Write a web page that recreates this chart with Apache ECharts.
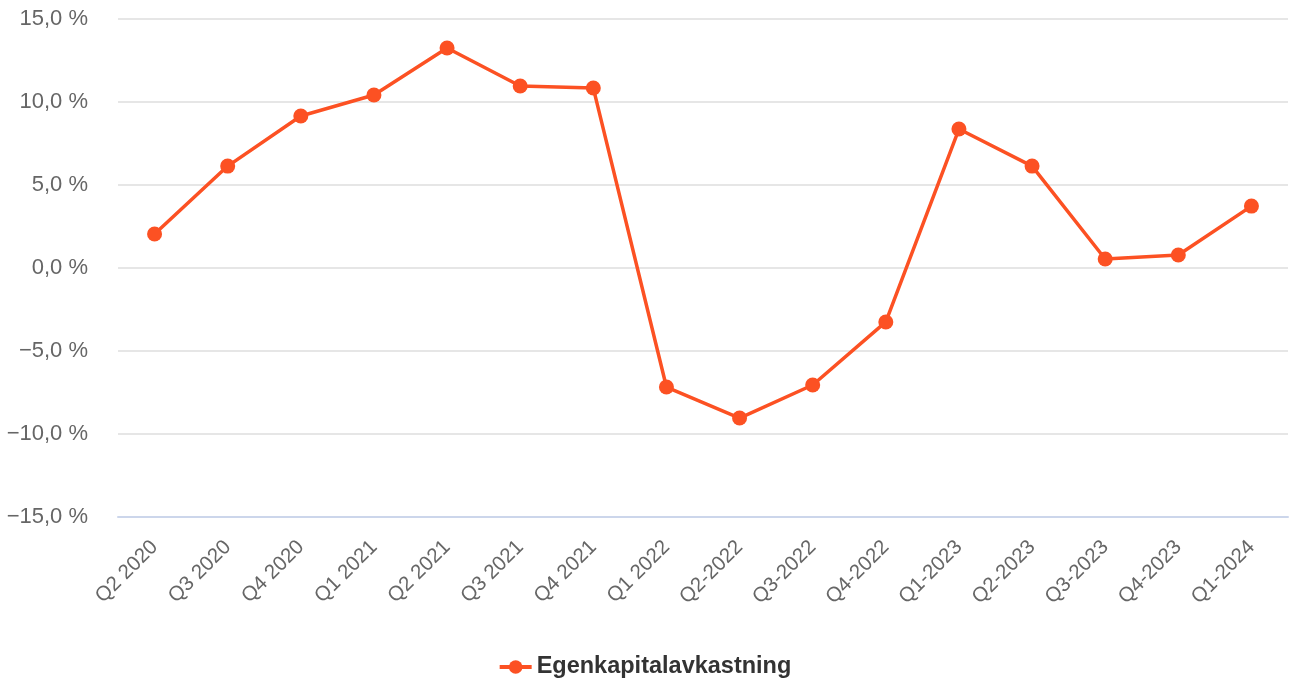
<!DOCTYPE html>
<html>
<head>
<meta charset="utf-8">
<script src="https://cdn.jsdelivr.net/npm/echarts@6/dist/echarts.min.js"></script>
<style>
    html, body { margin: 0; padding: 0; background: #fff; }
    #chart { width: 1289px; height: 684px; }
</style>
</head>
<body>
<div id="chart"></div>
<script>
const quarters = ['Q2 2020', 'Q3 2020', 'Q4 2020', 'Q1 2021', 'Q2 2021', 'Q3 2021', 'Q4 2021', 'Q1 2022',
    'Q2-2022', 'Q3-2022', 'Q4-2022', 'Q1-2023', 'Q2-2023', 'Q3-2023', 'Q4-2023', 'Q1-2024'];
const roe = [2.05, 6.14, 9.16, 10.42, 13.25, 10.96, 10.84, -7.17, -9.04, -7.05, -3.25, 8.37, 6.14, 0.54, 0.78, 3.73];
const seriesName = 'Egenkapitalavkastning';

(function () {
    const lineColor = '#fc5123';
    const fontFamily = '"Liberation Sans", Arial, sans-serif';

    // norsk format: komma som desimaltegn, ekte minustegn
    const fmt = (v) => {
        let s = Math.abs(v).toFixed(1).replace('.', ',') + ' %';
        return v < 0 ? '\u2212' + s : s;
    };

    let myChart = echarts.init(document.getElementById('chart'));
    myChart.setOption({
        'animation': false,
        'textStyle': { 'fontFamily': fontFamily },
        'grid': {
            'left': 118,
            'right': 1,
            'top': 19,
            'bottom': 167,
            'containLabel': false
        },
        'legend': {
            'data': [seriesName],
            'bottom': 0,
            'left': 'center',
            'itemWidth': 32,
            'itemHeight': 17,
            'itemGap': 10,
            'itemStyle': { 'color': lineColor },
            'lineStyle': { 'width': 4 },
            'textStyle': {
                'color': '#333',
                'fontSize': 23.5,
                'fontWeight': 'bold',
                'fontFamily': fontFamily
            }
        },
        'xAxis': {
            'type': 'category',
            'data': quarters,
            'boundaryGap': true,
            'axisLine': { 'onZero': false, 'lineStyle': { 'color': '#ccd6eb', 'width': 2 } },
            'axisTick': { 'show': false },
            'axisLabel': {
                'rotate': 45,
                'color': '#666',
                'fontSize': 20.5,
                'margin': 27,
                'interval': 0
            }
        },
        'yAxis': {
            'type': 'value',
            'min': -15,
            'max': 15,
            'interval': 5,
            'axisLine': { 'show': false },
            'axisTick': { 'show': false },
            'splitLine': { 'lineStyle': { 'color': '#e6e6e6', 'width': 2 } },
            'axisLabel': {
                'color': '#666',
                'fontSize': 22,
                'margin': 30,
                'formatter': fmt
            }
        },
        'series': [{
            'name': seriesName,
            'type': 'line',
            'data': roe,
            'symbol': 'circle',
            'symbolSize': 15,
            'lineStyle': { 'color': lineColor, 'width': 3.5 },
            'itemStyle': { 'color': lineColor }
        }]
    });
})();
</script>
</body>
</html>
